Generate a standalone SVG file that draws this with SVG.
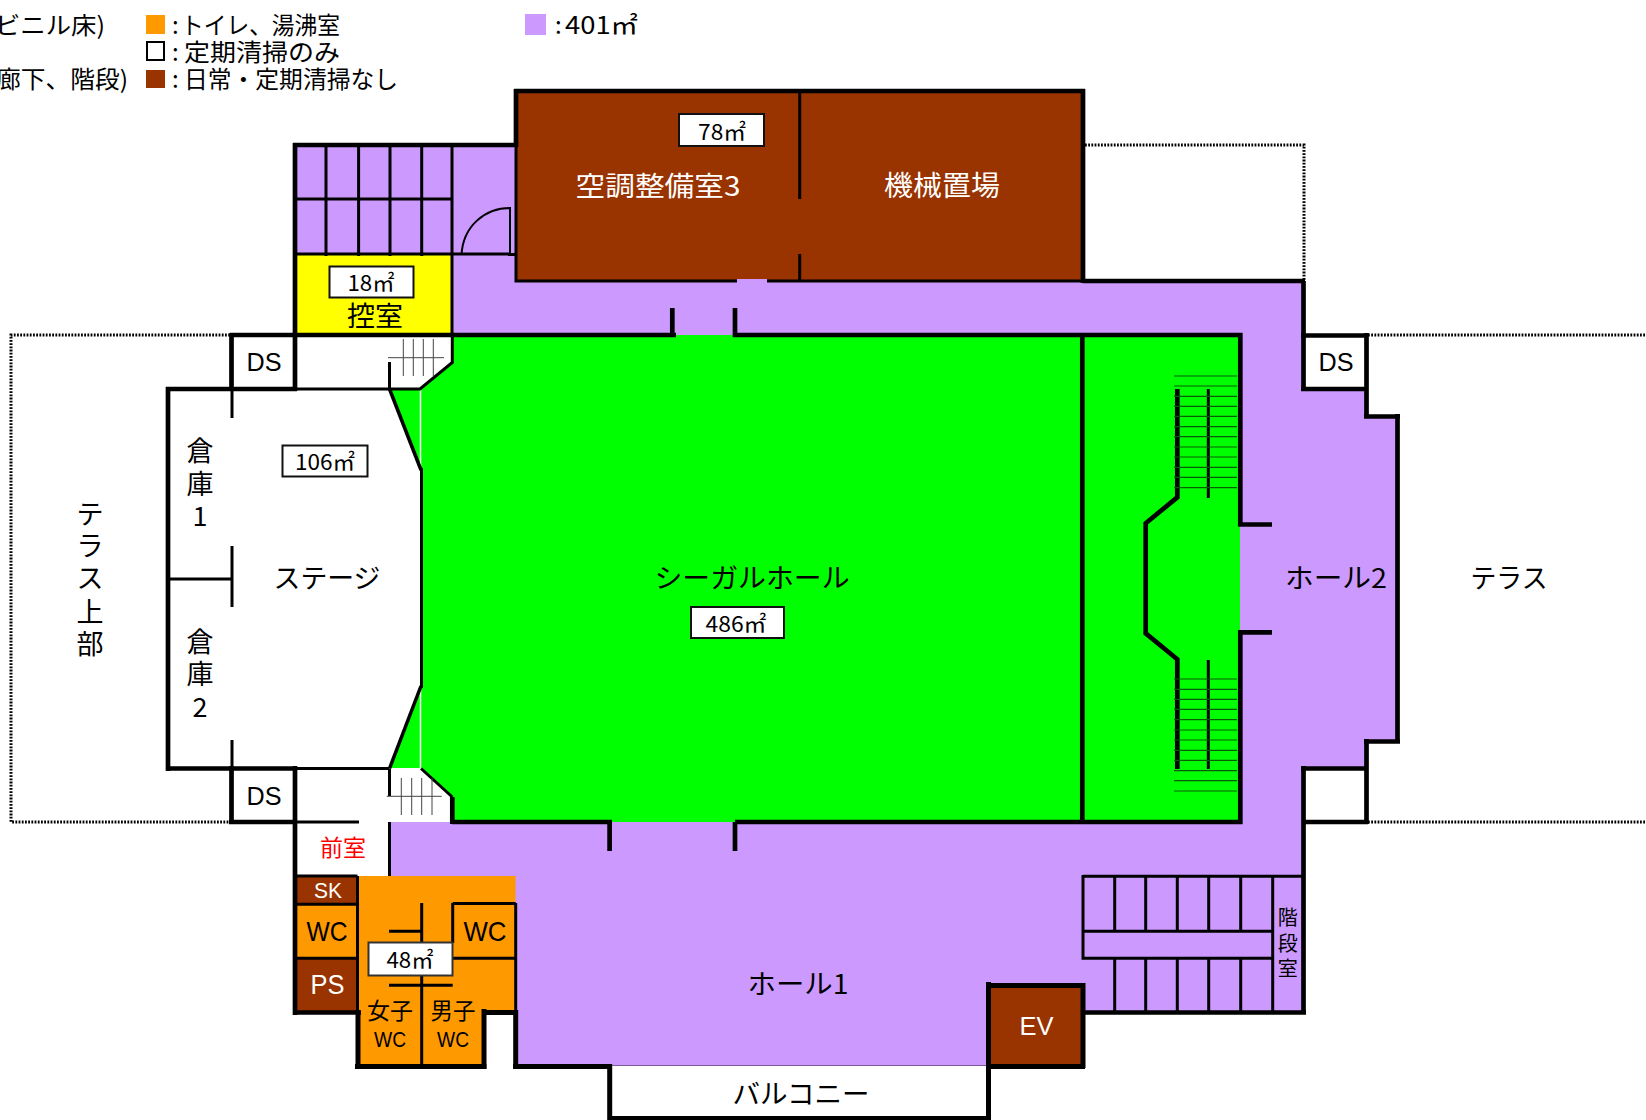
<svg xmlns="http://www.w3.org/2000/svg" width="1646" height="1120" viewBox="0 0 1646 1120">
<style>
text{font-family:"Noto Sans CJK JP","Liberation Sans",sans-serif;text-anchor:middle;dominant-baseline:central;fill:#000;font-size:26px}
.l{text-anchor:start}.e{text-anchor:end}
.w{fill:#fff}.lat{font-family:"Liberation Sans","Noto Sans",sans-serif}
.wall,.t3,.t35,.t5,.fine,.dot,.door{fill:none;stroke:#000}
.wall{stroke-width:4.700}.t5{stroke-width:5}.t3{stroke-width:3}.t35{stroke-width:3.500}
.fine{stroke-width:1;stroke:#444}
.tread{stroke:#0a5a0a;stroke-width:1.200;fill:none}
.dot{stroke-width:3;stroke-dasharray:1.800 1.400}
.door{stroke-width:2}
.box{fill:#fff;stroke:#111;stroke-width:2}
.b{fill:#993300}.o{fill:#ff9900}.p{fill:#cc99ff}.g{fill:#00ff00}.y{fill:#ffff00}
.s20{font-size:20px}.s22{font-size:22px}.s24{font-size:24px}
</style>
<rect width="1646" height="1120" fill="#fff"/>
<g id="legend">
<rect class="o" x="146" y="15" width="19" height="19"/>
<rect x="147" y="42" width="17" height="18" fill="#fff" stroke="#000" stroke-width="2"/>
<rect class="b" x="146" y="70" width="19" height="18"/>
<rect class="p" x="525" y="14" width="21" height="21"/>
<g transform="translate(0,-2)">
<text class="e s24" x="105" y="25" textLength="110" lengthAdjust="spacingAndGlyphs">ビニル床)</text>
<text class="e s24" x="128" y="79" textLength="132" lengthAdjust="spacingAndGlyphs">廊下、階段)</text>
<text class="l s24" y="25"><tspan x="172">:</tspan><tspan x="181" textLength="159" lengthAdjust="spacingAndGlyphs">トイレ、湯沸室</tspan></text>
<text class="l s24" y="52"><tspan x="172">:</tspan><tspan x="184" textLength="156" lengthAdjust="spacingAndGlyphs">定期清掃のみ</tspan></text>
<text class="l s24" y="79"><tspan x="172">:</tspan><tspan x="184" textLength="214" lengthAdjust="spacingAndGlyphs">日常・定期清掃なし</tspan></text>
<text class="l s24" y="25"><tspan x="555">:</tspan><tspan x="565" textLength="73" lengthAdjust="spacingAndGlyphs">401㎡</tspan></text>
</g>
</g>
<g id="floors">
<path class="p" d="M295 145H516V281H1303V389H1366V416H1398V741H1366V768H1303V1012H1083V985H988V1065H514V876H390V822H452V335H452V254H295Z"/>
<rect class="y" x="295" y="254" width="157" height="81"/>
<path class="g" d="M452 335H1240V822H452V797L421 768H389L421 687V470L389 389H421L452 362Z"/>
<path class="o" d="M358 876H515.500V1012H484V1066H358Z"/>
<rect class="b" x="516" y="91" width="567" height="190"/>
<rect class="p" x="737" y="279" width="30" height="4"/>
<rect class="b" x="296" y="876" width="62" height="28"/>
<rect class="b" x="296" y="958" width="62" height="54"/>
<rect class="o" x="296" y="904" width="62" height="54"/>
<rect class="b" x="988" y="985" width="95" height="81"/>
<path d="M420.500 389V470M420.500 687V768" stroke="#fff" stroke-width="1.500"/>
</g>
<g id="connectors">
<g id="dotted-outlines">
<path class="dot" d="M230 335H11V822H230"/>
<path class="dot" d="M1085 145H1304V281"/>
<path class="dot" d="M1368 335H1646M1368 822H1646"/>
</g>
<g id="outer-walls">
<path class="wall" d="M293 145H518M516 89V147M514 91H1085M1083 89V283M1083 281H1305"/>
<path class="t3" d="M516 147V281H737M767 281H1083"/>
<path class="wall" d="M295 143V391M230 335H454M231.500 333V391M166 389H297M168 387V771M166 768.500H297M231.500 766V824M229 822H297M295 766V1015M293 1012.500H361"/>
<path class="t3" d="M452 145V335M295 199H452M295 254H510"/>
<path class="wall" d="M1303.500 281V391M1301 335.500H1368M1301 389H1368M1366.500 333V418M1364 416.500H1400M1397.500 414V743M1364 741.500H1400M1366.500 739V824M1301 768.500H1368M1303.500 766V1014M1081 1012.500H1306M1303 822H1368"/>
<path class="t3" d="M296 389H389M296 768.500H389M296 822H359"/>
<path class="t5" d="M358 1010V1069M355 1066.500H486.700M484 1009V1069M482 1012.500H518M515.700 1010V1069M513 1066.500H612M609.700 1064V1120M609.700 1118.500H990M988.500 1120V982M986 985.500H1085M1083 983V1068M986 1066.500H1085"/>
<path d="M612 1065.500H986" fill="none" stroke="#7a5a99" stroke-width="1"/>
</g>
<g id="hall-walls">
<path class="wall" d="M452 335H676M733 335H1242.500M1240.300 333V526.500M1238 524.500H1272M1238 632.300H1272M1240.300 630V824M735 822H1242.500M452 822H612M452.300 797V824M1082.300 335V822M609.600 822V851M735 822V851M672.300 308V337M735 308V337"/>
<path class="t3" d="M452.300 335V362.500L420 389L389.500 389M389.500 362V389"/>
<path class="t35" d="M389.500 389L421 470"/>
<path class="t3" d="M421.500 468V688"/>
<path class="t35" d="M421 686L389.500 768.500"/>
<path class="t3" d="M421 768.500L452.300 797M389.500 768.500V796M389.500 822V876"/>
</g>
<g id="stage-partitions">
<path class="t3" d="M168 579H232M232 389V418M232 546V607M232 740V769"/>
</g>
<g id="annex-stairs">
<path class="t3" d="M326 145V256M358.600 145V256M390 145V256M421.700 145V256"/>
</g>
<g id="door">
<path class="door" d="M461.500 255C463 226 485 208 510 208V255"/>
<path class="t3" d="M508 254.500H516"/>
<path class="t3" d="M799.700 93V199M799.700 254V281"/>
</g>
<g id="balcony-steps">
<g class="wall">
<path d="M1177.300 389V497.300L1145.700 523.300V633.300L1177.300 659.300V769"/>
</g>
<path class="t3" d="M1208.300 389V498M1208.300 660V769"/>
<path class="tread" d="M1174 376H1237M1174 386H1237M1174 396.300H1237M1174 406.300H1237M1174 416.300H1237M1174 426.700H1237M1174 436.700H1237M1174 447H1237M1174 457H1237M1174 467.300H1237M1174 477.300H1237M1174 487.700H1237"/>
<path class="tread" d="M1174 679H1237M1174 689.300H1237M1174 699.300H1237M1174 709.300H1237M1174 719.700H1237M1174 730H1237M1174 740H1237M1174 750.300H1237M1174 760.300H1237M1174 770.700H1237M1174 780.700H1237M1174 791H1237"/>
</g>
<g id="side-stairs">
<path class="fine" d="M403.300 339V376M413.300 339V376M423.300 339V376M433.300 339V376M388 357.700H444"/>
<path class="fine" d="M401.300 778V815M411.700 778V815M421.700 778V815M432 778V815M386.700 796.300H441.700"/>
</g>
<g id="stair-room">
<path class="t3" d="M1083 876.300H1303M1083 875V959.800M1083 931.300H1272M1083 958.300H1272M1272.700 876V1012"/>
<path class="t3" d="M1114.700 876V931M1145.700 876V931M1177.300 876V931M1208.700 876V931M1240.700 876V931"/>
<path class="t3" d="M1114.700 958V1012M1145.700 958V1012M1177.300 958V1012M1208.700 958V1012M1240.700 958V1012"/>
</g>
<g id="toilets">
<path class="t3" d="M357.500 876H296M357.500 876V1012M296 904.300H358M296 958.300H358"/>
<path class="t3" d="M421.700 903V1066M389 931.300H421.700M389 985.300H452.700M452.700 903V943M452.700 903.500H515.700M515.700 903V1012M452.700 958.300H515.700"/>
</g>
</g>
<g id="room-labels" transform="translate(0,-2)">
<g id="node-hvac3"><text class="w" x="658" y="186" textLength="165" lengthAdjust="spacingAndGlyphs" style="font-size:27px">空調整備室3</text></g>
<g id="node-hvac3-area"><rect class="box" x="679" y="116" width="85" height="32"/><text class="s22" x="722" y="132" textLength="48" lengthAdjust="spacingAndGlyphs">78㎡</text></g>
<g id="node-machine"><text class="w" x="942" y="186" textLength="116" lengthAdjust="spacingAndGlyphs" style="font-size:28px">機械置場</text></g>
<g id="node-hikae"><rect class="box" x="329.500" y="268.500" width="84" height="31"/><text class="s22" x="371" y="283" textLength="47" lengthAdjust="spacingAndGlyphs">18㎡</text><text x="375" y="316" textLength="56" lengthAdjust="spacingAndGlyphs" style="font-size:27px">控室</text></g>
<g id="node-ds1"><text class="lat" x="264" y="364" textLength="35" lengthAdjust="spacingAndGlyphs" style="font-size:26px">DS</text></g>
<g id="node-ds2"><text class="lat" x="264" y="798" textLength="35" lengthAdjust="spacingAndGlyphs" style="font-size:26px">DS</text></g>
<g id="node-ds3"><text class="lat" x="1336" y="364" textLength="35" lengthAdjust="spacingAndGlyphs" style="font-size:26px">DS</text></g>
<g id="node-stage"><text x="327" y="578" textLength="107" lengthAdjust="spacingAndGlyphs" style="font-size:27px">ステージ</text><rect class="box" x="282.500" y="447.500" width="85" height="31"/><text class="s22" x="325" y="462" textLength="60" lengthAdjust="spacingAndGlyphs">106㎡</text></g>
<g id="node-store1"><text x="200" y="451" style="font-size:27px">倉</text><text x="200" y="484" style="font-size:27px">庫</text><text x="200" y="516" style="font-size:27px">1</text></g>
<g id="node-store2"><text x="200" y="642" style="font-size:27px">倉</text><text x="200" y="674" style="font-size:27px">庫</text><text x="200" y="707" style="font-size:27px">2</text></g>
<g id="node-terrace-upper"><text x="90" y="514" style="font-size:27px">テ</text><text x="90" y="546" style="font-size:27px">ラ</text><text x="90" y="578" style="font-size:27px">ス</text><text x="90" y="612" style="font-size:27px">上</text><text x="90" y="644" style="font-size:27px">部</text></g>
<g id="node-seagull"><text x="752" y="578" textLength="195" lengthAdjust="spacingAndGlyphs" style="font-size:27px">シーガルホール</text><rect class="box" x="691" y="609" width="93" height="31"/><text class="s22" x="736" y="624" textLength="61" lengthAdjust="spacingAndGlyphs">486㎡</text></g>
<g id="node-hall2"><text x="1336" y="578" textLength="102" lengthAdjust="spacingAndGlyphs" style="font-size:27px">ホール2</text></g>
<g id="node-terrace"><text x="1509" y="578" textLength="77" lengthAdjust="spacingAndGlyphs" style="font-size:27px">テラス</text></g>
<g id="node-hall1"><text x="798" y="984" textLength="101" lengthAdjust="spacingAndGlyphs" style="font-size:27px">ホール1</text></g>
<g id="node-balcony"><text x="801" y="1094" textLength="137" lengthAdjust="spacingAndGlyphs" style="font-size:27px">バルコニー</text></g>
<g id="node-ev"><text class="w lat" x="1036.500" y="1028" textLength="34" lengthAdjust="spacingAndGlyphs" style="font-size:26px">EV</text></g>
<g id="node-stairs"><text class="s20" x="1287.700" y="918">階</text><text class="s20" x="1287.700" y="944">段</text><text class="s20" x="1287.700" y="969">室</text></g>
<g id="node-anteroom"><text x="343" y="848" textLength="46" lengthAdjust="spacingAndGlyphs" style="font-size:23px;fill:#ff0000">前室</text></g>
<g id="node-sk"><text class="w lat" x="328" y="892" textLength="28" lengthAdjust="spacingAndGlyphs" style="font-size:22px">SK</text></g>
<g id="node-wc1"><text class="lat" x="327" y="933" textLength="41" lengthAdjust="spacingAndGlyphs" style="font-size:28px">WC</text></g>
<g id="node-ps"><text class="w lat" x="327.500" y="986" textLength="34" lengthAdjust="spacingAndGlyphs" style="font-size:28px">PS</text></g>
<g id="node-wc2"><text class="lat" x="485" y="933" textLength="43" lengthAdjust="spacingAndGlyphs" style="font-size:28px">WC</text></g>
<g id="node-toilet-area"><rect x="368.500" y="944.500" width="84" height="33" fill="#fff" stroke="#333" stroke-width="2"/><text class="s22" x="410" y="960" textLength="47" lengthAdjust="spacingAndGlyphs">48㎡</text></g>
<g id="node-women"><text x="390" y="1011" textLength="46" lengthAdjust="spacingAndGlyphs" style="font-size:23px">女子</text><text class="lat" x="390" y="1041" textLength="32" lengthAdjust="spacingAndGlyphs" style="font-size:22px">WC</text></g>
<g id="node-men"><text x="453" y="1011" textLength="45" lengthAdjust="spacingAndGlyphs" style="font-size:23px">男子</text><text class="lat" x="453" y="1041" textLength="32" lengthAdjust="spacingAndGlyphs" style="font-size:22px">WC</text></g>
</g>
</svg>
